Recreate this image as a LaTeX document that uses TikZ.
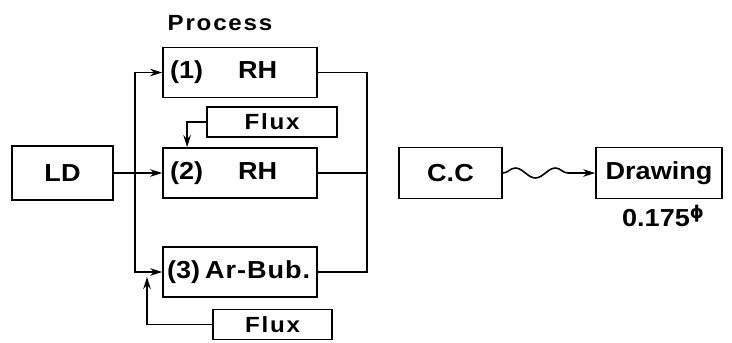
\documentclass[tikz,border=0pt]{standalone}
\usepackage{fontspec}
\setmainfont{Liberation Sans}[FakeStretch=1.1]
\newfontfamily\phifont{DejaVu Sans}
\usepackage{tikz}
\usetikzlibrary{arrows.meta, decorations.pathmorphing}
\newcommand{\boxfont}{\fontsize{14}{16}\selectfont\bfseries}
\newcommand{\fluxfont}{\fontsize{12.5}{14}\selectfont\bfseries\addfontfeature{LetterSpace=8}}
\tikzset{
    base_box/.style={draw=black, line width=1pt, inner sep=0pt, font=\boxfont},
    start_box/.style={base_box, minimum width=2.02cm, minimum height=1.08cm},
    proc_box/.style={base_box, minimum width=3.08cm, minimum height=1.0cm,
                     text width=2.8cm, align=left},
    flux_box/.style={base_box, minimum height=0.6cm, font=\fluxfont},
    end_box/.style={base_box, minimum height=1.02cm},
    edge_line/.style={line width=0.9pt, draw=black},
    wave_line/.style={edge_line, decorate,
                      decoration={snake, amplitude=0.1cm, segment length=0.8cm,
                                  post length=0.4cm}}
}
\begin{document}
\begin{tikzpicture}[x=0.02cm, y=-0.02cm, >={Stealth[length=0.24cm, width=0.15cm]}]
    \useasboundingbox (0, 0) rectangle (732, 342);
    % boxes
    \node[start_box] (ld) at (62.5, 173) {LD};
    \node[proc_box] (rh1) at (240, 72.5) {(1)\hspace{0.7cm}RH};
    \node[proc_box] (rh2) at (240, 173) {(2)\hspace{0.7cm}RH};
    \node[proc_box] (arbub) at (240, 272)
        {\hspace*{-0.06cm}(3)\hspace{0.1cm}{\addfontfeature{LetterSpace=4}Ar-Bub.}};
    \node[flux_box, minimum width=2.6cm] (flux1) at (272, 122) {Flux};
    \node[flux_box, minimum width=2.38cm] (flux2) at (272.5, 324.5) {Flux};
    \node[end_box, minimum width=2.06cm] (cc) at (450.5, 173) {C.C};
    \node[end_box, minimum width=2.52cm] (drawing) at (659, 173) {Drawing};
    % labels
    \node[font=\fluxfont] (process) at (220, 23) {Process};
    \node[font=\boxfont] (dia) at (663, 216)
        {0.175\raisebox{0.6ex}{\phifont\fontsize{10}{10}\selectfont\bfseries ϕ}};
    % split and merge points
    \coordinate (split) at (135, 173);
    \coordinate (merge) at (367, 173);
    \coordinate (bub_in) at (147, 277);
    % connectors
    \draw[edge_line, ->] (ld) -- (rh2);
    \draw[edge_line, ->] (split) |- (rh1);
    \draw[edge_line, ->] (split) |- (arbub);
    \draw[edge_line, ->] (flux1.west) -| ([xshift=0.5cm]rh2.north west);
    \draw[edge_line, ->] (flux2.west) -| (bub_in);
    \draw[edge_line] (rh1) -| (merge) |- (arbub);
    \draw[edge_line] (rh2) -- (merge);
    \draw[wave_line, ->] (cc) -- (drawing);
\end{tikzpicture}
\end{document}
